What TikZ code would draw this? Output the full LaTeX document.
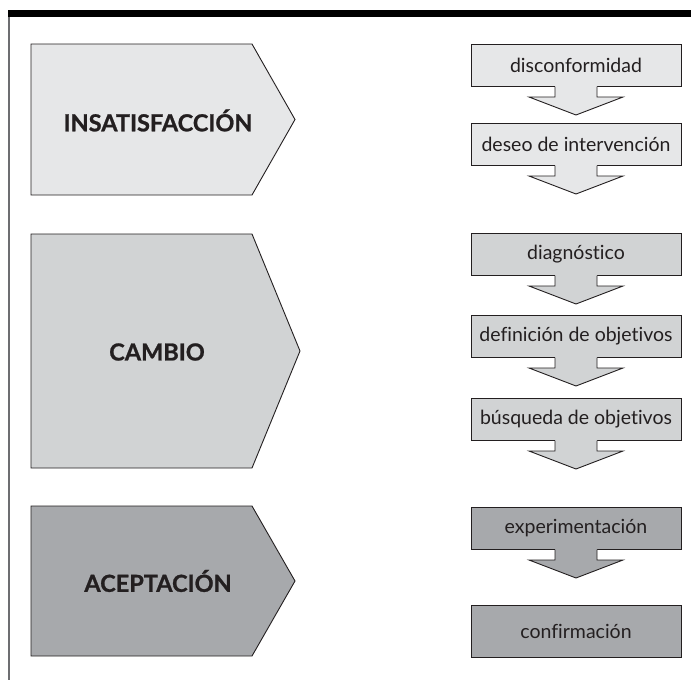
\documentclass[tikz,border=0pt]{standalone}
\usepackage{fontspec}
\setmainfont{Lato}[Ligatures=NoCommon]
\newfontfamily\stagefont{Lato}[BoldFeatures={FakeBold=1}]
\usetikzlibrary{calc}
\definecolor{ink}{HTML}{231F20}
\definecolor{rule}{HTML}{6D6E71}
\definecolor{gA}{HTML}{E6E7E8}
\definecolor{gB}{HTML}{D1D3D4}
\definecolor{gC}{HTML}{A7A9AC}
\newcommand\blockarr[2]{%
  \fill[#2] ($(#1.south)+(-21,-0.6)$) -- ($(#1.south)+(-21,10.5)$) -- ($(#1.south)+(-47,10.5)$)
     -- ($(#1.south)+(0,28.5)$) -- ($(#1.south)+(47,10.5)$) -- ($(#1.south)+(21,10.5)$)
     -- ($(#1.south)+(21,-0.6)$) -- cycle;
  \draw[blockarrow] ($(#1.south)+(-21,0)$) -- ($(#1.south)+(-21,10.5)$) -- ($(#1.south)+(-47,10.5)$)
     -- ($(#1.south)+(0,28.5)$) -- ($(#1.south)+(47,10.5)$) -- ($(#1.south)+(21,10.5)$)
     -- ($(#1.south)+(21,0)$);}
\begin{document}
\begin{tikzpicture}[x=1pt,y=-1pt,
  stage/.style={draw=ink, line width=0.9pt, line join=miter},
  stagelabel/.style={font=\stagefont\bfseries\fontsize{23.5}{23.5}\selectfont, text=ink, inner sep=0pt},
  stepbox/.style={draw=ink, line width=1pt, minimum width=210pt, minimum height=42pt,
    inner sep=0pt, font=\fontsize{19.5}{19.5}\selectfont, text=ink},
  blockarrow/.style={draw=ink, line width=0.9pt, line join=miter}]
\useasboundingbox (0,0) rectangle (691,680);
\fill[black] (8,10) rectangle (691,17);
\draw[line width=2pt, rule] (9,17) -- (9,680);

% stages
\draw[stage, fill=gA] (31,44) -- (252,44) -- (295,119.5) -- (252,195) -- (31,195) -- cycle;
\node[stagelabel] (insat) at (158,120.5) {INSATISFACCIÓN};
\draw[stage, fill=gB] (31,234) -- (252,234) -- (300,351) -- (252,468) -- (31,468) -- cycle;
\node[stagelabel] (cambio) at (157,352) {CAMBIO};
\draw[stage, fill=gC] (31,506) -- (252,506) -- (295,581) -- (252,656) -- (31,656) -- cycle;
\node[stagelabel] (acept) at (158,581) {ACEPTACIÓN};

% steps
\node[stepbox, fill=gA] (b1) at (576,65) {disconformidad};
\node[stepbox, fill=gA] (b2) at (576,144) {deseo de intervención};
\node[stepbox, fill=gB] (b3) at (576,254) {diagnóstico};
\node[stepbox, fill=gB] (b4) at (576,336) {definición de objetivos};
\node[stepbox, fill=gB] (b5) at (576,419) {búsqueda de objetivos};
\node[stepbox, fill=gC] (b6) at (576,528) {experimentación};
\node[stepbox, fill=gC, minimum height=52pt] (b7) at (576,631) {confirmación};

\blockarr{b1}{gA}
\blockarr{b2}{gA}
\blockarr{b3}{gB}
\blockarr{b4}{gB}
\blockarr{b5}{gB}
\blockarr{b6}{gC}
\end{tikzpicture}
\end{document}
